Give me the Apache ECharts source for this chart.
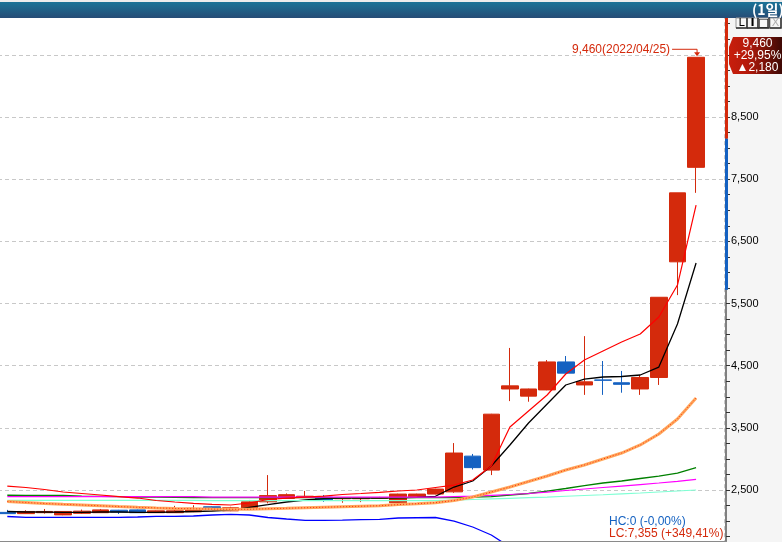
<!DOCTYPE html>
<html><head><meta charset="utf-8">
<script src="https://cdn.jsdelivr.net/npm/echarts@6/dist/echarts.min.js"></script>
<style>html,body{margin:0;padding:0;background:#fff;}#c{width:782px;height:542px;}</style>
</head><body><div id="c"></div>
<script>
// ---- data ----
const dates = ['2022/03/02','2022/03/03','2022/03/04','2022/03/07','2022/03/08','2022/03/10','2022/03/11','2022/03/14','2022/03/15','2022/03/16',
 '2022/03/17','2022/03/18','2022/03/21','2022/03/22','2022/03/23','2022/03/24','2022/03/25','2022/03/28','2022/03/29','2022/03/30',
 '2022/03/31','2022/04/01','2022/04/04','2022/04/05','2022/04/06','2022/04/07','2022/04/08','2022/04/11','2022/04/12','2022/04/13',
 '2022/04/14','2022/04/15','2022/04/18','2022/04/19','2022/04/20','2022/04/21','2022/04/22','2022/04/25'];
const opens  = [2140,2120,2135,2100,2125,2135,2175,2180,2135,2135,2150,2230,2165,2190,2310,2365,2380,2385,2360,2360,2365,2295,2380,2435,2470,3045,2820,4125,4010,4110,4560,4190,4270,4225,4125,4310,6170,7690];
const closes = [2120,2155,2155,2155,2160,2180,2145,2135,2165,2165,2205,2180,2215,2310,2410,2425,2400,2340,2375,2375,2380,2435,2435,2515,3095,2860,3720,4175,4125,4560,4380,4240,4265,4200,4310,5600,7280,9460];
const lows   = [2115,2115,2120,2095,2115,2130,2115,2130,2130,2130,2145,2175,2160,2185,2285,2360,2375,2310,2295,2305,2355,2290,2375,2430,2455,2830,2740,3930,3920,4105,4375,4030,4030,4065,4030,4190,5635,7280];
const highs  = [2180,2175,2195,2160,2185,2195,2180,2185,2170,2245,2255,2235,2230,2340,2740,2445,2485,2420,2380,2385,2390,2440,2440,2520,3255,3080,3725,4785,4130,4590,4655,4975,4575,4415,4350,5600,7280,9460];
const ma5    = [2154,2146,2146,2141,2141,2146,2146,2141,2141,2146,2154,2162,2178,2222,2264,2307,2339,2363,2371,2371,2371,2375,2383,2399,2548,2645,2886,3224,3578,3883,4189,4285,4318,4326,4350,4478,5170,6151];
const bbUpper= [2564,2540,2508,2468,2444,2420,2395,2371,2331,2307,2286,2270,2259,2291,2347,2371,2387,2403,2428,2444,2463,2484,2500,2540,2580,2661,2886,3513,3771,4028,4366,4591,4736,4881,5009,5283,5797,7084];
const bbMid  = [2315,2299,2283,2270,2259,2246,2233,2222,2212,2204,2198,2193,2190,2190,2199,2206,2215,2223,2231,2239,2247,2265,2280,2296,2331,2387,2468,2548,2637,2725,2822,2902,2999,3095,3224,3401,3642,3980];
const bbLower= [2074,2061,2061,2061,2061,2061,2061,2066,2077,2077,2082,2098,2109,2098,2058,2034,2013,2013,2017,2025,2029,2050,2054,2058,2001,1905,1776,1583,1503,1420,1278,1213,1262,1310,1438,1519,1487,876];
const ma60   = [2416,2415,2413,2412,2403,2397,2392,2387,2384,2381,2378,2376,2376,2376,2376,2376,2376,2376,2376,2376,2376,2376,2376,2376,2379,2387,2395,2420,2444,2481,2524,2572,2613,2645,2685,2725,2773,2862];
const ma120  = [2392,2392,2392,2392,2392,2392,2392,2392,2392,2392,2392,2385,2385,2385,2385,2385,2385,2385,2385,2385,2385,2385,2385,2385,2395,2403,2415,2428,2444,2465,2492,2516,2540,2564,2588,2613,2640,2672];
const ma240  = [2334,2334,2334,2334,2334,2334,2334,2334,2334,2334,2334,2328,2328,2328,2328,2328,2328,2328,2328,2328,2328,2328,2328,2328,2336,2347,2357,2366,2376,2387,2400,2412,2424,2439,2452,2468,2484,2500];
const axisColorBands = [8150, 5720];   // red above first, blue between
const monthStart = '2022/04/01';
const hcText = 'HC:0 (-0,00%)';
const lcText = 'LC:7,355 (+349,41%)';
const periodText = '(1일)';

// ---- build ----
const UP = '#d42a0c', DOWN = '#1461c1';
const fmt = v => Math.round(v).toLocaleString('en-US');
const catData = dates.concat(['']);
const kData = dates.map((d,i)=>[opens[i],closes[i],lows[i],highs[i]]);
const lineS = (data, color, width, z, type) => ({type:'line', data, showSymbol:false, symbol:'none', silent:true,
  lineStyle:{color, width, type: type || 'solid'}, z, animation:false});

const option = {
  backgroundColor:'#ffffff',
  animation:false,
  grid:{left:-2, width:726, top:8.18, height:544, outerBoundsMode:'none', containLabel:false},
  xAxis:{type:'category', data:catData, boundaryGap:true,
    axisLine:{show:false}, axisTick:{show:false}, axisLabel:{show:false},
    splitLine:{show:true, interval:(idx,val)=>val===monthStart, lineStyle:{color:'#c8c8c8', type:[4,3], width:1}}},
  yAxis:[
    {type:'value', position:'right', offset:2, min:1500, max:10250, interval:1000,
     axisLine:{show:false}, axisTick:{show:false},
     axisLabel:{color:'#000', fontSize:11, fontFamily:'Liberation Sans', margin:5,
       formatter:v=>((v-500)%1000===0 && v>=2000 && v<10000)?fmt(v):''},
     splitLine:{show:true, lineStyle:{color:'#c8c8c8', type:[4,3], width:1}}},
    {type:'value', position:'right', offset:2, min:1500, max:10250, interval:250,
     axisLine:{show:true, lineStyle:{color:'#808080', width:2}},
     axisTick:{show:true, length:4, lineStyle:{color:'#333', width:1}},
     axisLabel:{show:false}, splitLine:{show:false}}
  ],
  series:[
    {type:'candlestick', data:kData, barWidth:17, z:1, silent:true,
     itemStyle:{color:UP, color0:DOWN, borderColor:UP, borderColor0:DOWN, borderWidth:1}},
    lineS(ma5,'#000000',1.3,3),
    lineS(ma240,'#7fffd4',1.2,3),
    lineS(ma60,'#008000',1.3,3),
    lineS(ma120,'#ff00ff',1.2,3),
    lineS(bbLower,'#0000ff',1.3,3),
    lineS(bbMid,'#ffa85c',3,3),
    lineS(bbMid,'#ff2a10',1,4,[1,2]),
    lineS(bbUpper,'#ff0000',1.2,4)
  ]
};
const chart = echarts.init(document.getElementById('c'));
chart.setOption(option);

const px = (i,v)=>chart.convertToPixel({seriesIndex:0},[i,v]);
const last = closes.length-1;
const prev = closes[last-1];
const diff = closes[last]-prev;
const pct = (diff/prev*100).toFixed(2).replace('.',',');
const hiIdx = highs.indexOf(Math.max(...highs));
const hp = px(hiIdx, highs[hiIdx]);
const yA = chart.convertToPixel({yAxisIndex:0}, axisColorBands[0]);
const yB = chart.convertToPixel({yAxisIndex:0}, axisColorBands[1]);
const ax = 725;

const g = [];
g.push({type:'rect', z:-1, shape:{x:727,y:18,width:55,height:524}, style:{fill:'#f5f5f5'}});
g.push({type:'rect', z:50, shape:{x:ax,y:18,width:3,height:yA-18}, style:{fill:'#d42a0c'}});
g.push({type:'rect', z:50, shape:{x:ax,y:yA,width:3,height:yB-yA}, style:{fill:'#1461c1'}});
g.push({type:'rect', z:50, shape:{x:0,y:541,width:727,height:1}, style:{fill:'#8a8a8a'}});
g.push({type:'rect', z:100, shape:{x:0,y:0,width:782,height:2}, style:{fill:'#ececec'}});
g.push({type:'rect', z:100, shape:{x:0,y:2,width:782,height:16},
  style:{fill:{type:'linear',x:0,y:0,x2:0,y2:1,colorStops:[{offset:0,color:'#1b7397'},{offset:1,color:'#264c76'}]}}});
g.push({type:'text', z:101, style:{x:752,y:10,text:periodText,fill:'#fff',font:'bold 14px "Noto Sans CJK KR"',textVerticalAlign:'middle'}});
const btns = [['L',736],['I',747],['□',758],['X',770]];
btns.forEach(([t,x],k)=>{
  g.push({type:'rect', z:100, shape:{x:x,y:18,width:11,height:10}, style:{fill:'#f7f7f7',stroke:'#9a9a9a',lineWidth:1}});
  g.push({type:'polyline', z:101, shape:{points:[[x,28],[x+11,28],[x+11,18]]}, style:{stroke:'#303030',lineWidth:1.5,fill:null}});
  g.push({type:'text', z:102, style:{x:x+5.5,y:23.5,text:t,fill:k===3?'#b0b0b0':'#000',
    font:(k===1?'bold ':'')+'11px "DejaVu Sans"',textAlign:'center',textVerticalAlign:'middle'}});
});
g.push({type:'polygon', z:100, shape:{points:[[733,37],[782,37],[782,74],[733,74],[729,64],[729,47]]},
  style:{fill:{type:'linear',x:0,y:0,x2:1,y2:0,colorStops:[{offset:0,color:'#c81e0c'},{offset:0.35,color:'#b51a0b'},{offset:1,color:'#3e0905'}]}}});
const boxLines = [fmt(closes[last]), '+'+pct+'%', '▲'+fmt(diff)];
[44,55.5,68].forEach((y,k)=>g.push({type:'text', z:101, style:{x:757.5,y:y,text:boxLines[k],fill:'#fff',
  font:'12px "Liberation Sans"',textAlign:'center',textVerticalAlign:'middle'}}));
const ly = hp[1]-8;
g.push({type:'text', z:60, style:{x:hp[0]-26,y:ly,text:fmt(highs[hiIdx])+'('+dates[hiIdx]+')',fill:'#d42a0c',
  font:'12px "Liberation Sans"',textAlign:'right',textVerticalAlign:'middle'}});
g.push({type:'polyline', z:60, shape:{points:[[hp[0]-24,ly],[hp[0]+1,ly],[hp[0]+1,ly+4]]}, style:{stroke:'#d42a0c',lineWidth:1,fill:null}});
g.push({type:'polygon', z:60, shape:{points:[[hp[0]-2,ly+3],[hp[0]+4,ly+3],[hp[0]+1,ly+7]]}, style:{fill:'#d42a0c'}});
g.push({type:'text', z:60, style:{x:609,y:521.5,text:hcText,fill:'#1461c1',font:'12px "Liberation Sans"',textVerticalAlign:'middle'}});
g.push({type:'text', z:60, style:{x:609,y:534,text:lcText,fill:'#d42a0c',font:'12px "Liberation Sans"',textVerticalAlign:'middle'}});

chart.setOption({graphic:g});
</script></body></html>
